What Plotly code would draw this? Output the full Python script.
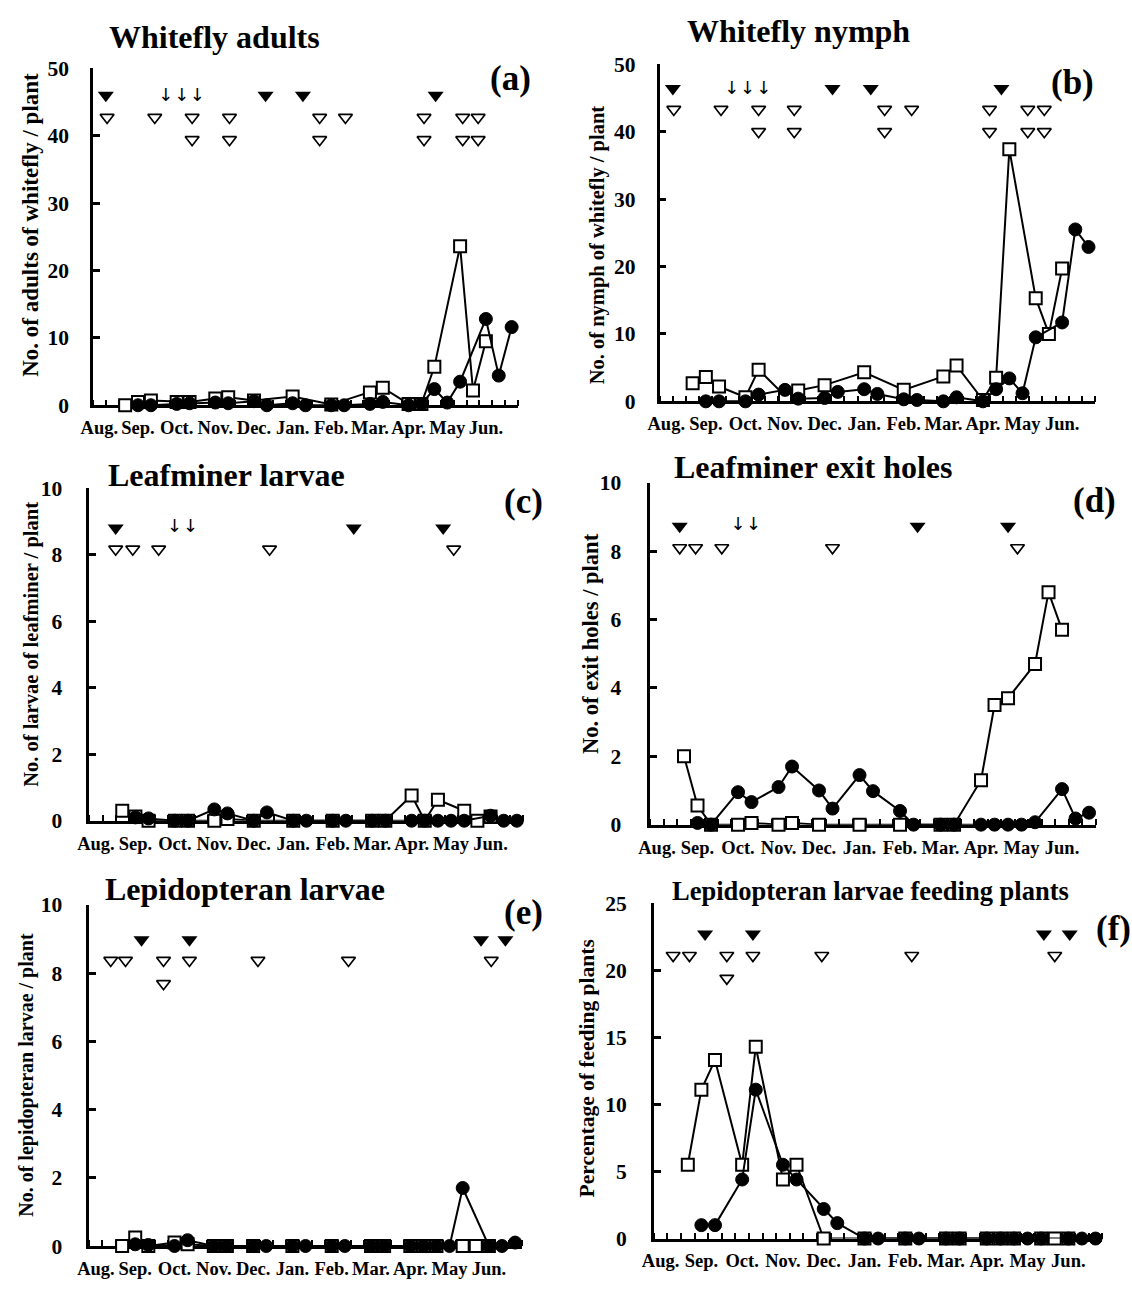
import plotly.graph_objects as go

# ---------------- data ----------------
MONTHS = ["Aug.", "Sep.", "Oct.", "Nov.", "Dec.", "Jan.", "Feb.", "Mar.", "Apr.", "May", "Jun."]
MONTH_PERIOD = [0.5 + 3 * i for i in range(11)]          # ten-day period where each month label sits

# sampling periods (ten-day periods from early August)
SQ_PERIOD = [2.5, 3.5, 4.5, 6.5, 7.5, 9.5, 10.5, 12.5, 15.5, 18.5, 21.5, 22.5, 24.5, 25.5, 26.5, 28.5, 29.5, 30.5]
CI_PERIOD = [3.5, 4.5, 6.5, 7.5, 9.5, 10.5, 12.5, 13.5, 15.5, 16.5, 18.5, 19.5, 21.5, 22.5, 24.5, 25.5, 26.5,
             27.5, 28.5, 30.5, 31.5, 32.5]

# (a) whitefly adults
A_SQ = [0, 0.5, 0.7, 0.5, 0.5, 1.0, 1.2, 0.7, 1.3, 0.1, 1.9, 2.6, 0.2, 0.2, 5.7, 23.6, 2.2, 9.5]
A_CI = [0, 0, 0.2, 0.3, 0.4, 0.3, 0.6, 0, 0.3, 0, 0, 0, 0.2, 0.5, 0, 0.2, 2.4, 0.4, 3.5, 12.8, 4.4, 11.6]
A_FILLED = [1.0, 13.4, 16.3, 26.6]
A_OPEN1 = [1.1, 4.8, 7.7, 10.6, 17.6, 19.6, 25.7, 28.7, 29.9]
A_OPEN2 = [7.7, 10.6, 17.6, 25.7, 28.7, 29.9]
A_ARROWS = [5.65, 6.9, 8.1]
A_LEVELS = [46.0, 42.7, 39.4, 45.8]

# (b) whitefly nymph
B_SQ = [2.7, 3.6, 2.2, 0.6, 4.7, 0.8, 1.6, 2.4, 4.3, 1.7, 3.7, 5.3, 0.2, 3.5, 37.4, 15.3, 10.0, 19.7]
B_CI = [0, 0, 0, 1.0, 1.7, 0.4, 0.5, 1.4, 1.8, 1.1, 0.3, 0.2, 0, 0.6, 0, 1.8, 3.4, 1.2, 9.5, 11.7, 25.5, 22.9]
B_FILLED = [1.0, 13.1, 16.0, 25.9]
B_OPEN1 = [1.07, 4.65, 7.5, 10.2, 17.05, 19.1, 25.0, 27.9, 29.15]
B_OPEN2 = [7.5, 10.2, 17.05, 25.0, 27.9, 29.15]
B_ARROWS = [5.47, 6.66, 7.9]
B_LEVELS = [46.4, 43.3, 40.0, 46.2]

# (c) leafminer larvae
C_SQ = [0.3, 0.13, 0, 0, 0, 0, 0.05, 0, 0, 0, 0, 0, 0.76, 0, 0.63, 0.3, 0, 0.13]
C_CI = [0.1, 0.07, 0, 0, 0.34, 0.22, 0, 0.25, 0, 0, 0, 0, 0, 0, 0, 0, 0, 0, 0, 0.15, 0, 0]
C_FILLED = [2.0, 20.1, 26.9]
C_OPEN1 = [2.0, 3.3, 5.27, 13.7, 27.7]
C_OPEN2 = []
C_ARROWS = [6.48, 7.7]
C_LEVELS = [8.8, 8.16, 7.5, 8.8]

# (d) leafminer exit holes
D_SQ = [2.0, 0.56, 0, 0, 0.05, 0, 0.05, 0, 0, 0, 0, 0, 1.3, 3.5, 3.7, 4.7, 6.8, 5.7]
D_CI = [0.05, 0, 0.95, 0.66, 1.1, 1.7, 1.0, 0.47, 1.45, 0.98, 0.4, 0, 0, 0, 0, 0, 0, 0, 0.07, 1.04, 0.18, 0.35]
D_FILLED = [2.18, 19.8, 26.5]
D_OPEN1 = [2.18, 3.36, 5.3, 13.5, 27.2]
D_OPEN2 = []
D_ARROWS = [6.5, 7.66]
D_LEVELS = [8.73, 8.1, 7.5, 8.75]

# (e) lepidopteran larvae
E_SQ = [0, 0.25, 0, 0.1, 0.05, 0, 0, 0, 0, 0, 0, 0, 0, 0, 0, 0, 0, 0]
E_CI = [0.05, 0.03, 0, 0.17, 0, 0, 0, 0, 0, 0, 0, 0, 0, 0, 0, 0, 0, 0, 1.7, 0, 0, 0.1]
E_FILLED = [3.98, 7.64, 29.9, 31.76]
E_OPEN1 = [1.63, 2.76, 5.66, 7.64, 12.87, 19.78, 30.68]
E_OPEN2 = [5.66]
E_ARROWS = []
E_LEVELS = [8.98, 8.37, 7.69, 9.0]

# (f) lepidopteran larvae feeding plants (%)
F_SQ = [5.5, 11.1, 13.3, 5.5, 14.3, 4.4, 5.5, 0, 0, 0, 0, 0, 0, 0, 0, 0, 0, 0]
F_CI = [1.0, 1.0, 4.4, 11.1, 5.5, 4.4, 2.2, 1.15, 0, 0, 0, 0, 0, 0, 0, 0, 0, 0, 0, 0, 0, 0]
F_FILLED = [3.77, 7.29, 28.7, 30.6]
F_OPEN1 = [1.42, 2.62, 5.37, 7.29, 12.36, 18.98, 29.5]
F_OPEN2 = [5.37]
F_ARROWS = []
F_LEVELS = [22.7, 21.1, 19.4, 22.7]

TITLES = ["Whitefly adults", "Whitefly nymph", "Leafminer larvae", "Leafminer exit holes",
          "Lepidopteran larvae", "Lepidopteran larvae feeding plants"]
YTITLES = ["No. of adults of whitefly / plant", "No. of nymph of whitefly / plant",
           "No. of larvae of leafminer / plant", "No. of exit holes / plant",
           "No. of lepidopteran larvae / plant", "Percentage of feeding plants"]
LETTERS = ["(a)", "(b)", "(c)", "(d)", "(e)", "(f)"]
YMAX = [50, 50, 10, 10, 10, 25]
YDTICK = [10, 10, 2, 2, 2, 5]

# ---------------- layout (pixels) ----------------
W, H = 1132, 1296
FONT = "Liberation Serif, Times New Roman, serif"


def fx(p):
    return p / W


def fy(p):
    return 1 - p / H


panels = [
    dict(sq=A_SQ, ci=A_CI, fil=A_FILLED, o1=A_OPEN1, o2=A_OPEN2, arr=A_ARROWS, lv=A_LEVELS,
         dx=(81.8, 511.5), dy=(58.3, 401.7), tpos=(205, 26.7), tsz=32, ypos=(19, 218), ysz=23,
         lpos=(504, 69), stand=17),
    dict(sq=B_SQ, ci=B_CI, fil=B_FILLED, o1=B_OPEN1, o2=B_OPEN2, arr=B_ARROWS, lv=B_LEVELS,
         dx=(654.6, 1094.7), dy=(54.3, 397.7), tpos=(795, 20), tsz=32, ypos=(592, 238), ysz=20.5,
         lpos=(1071.5, 73), stand=17),
    dict(sq=C_SQ, ci=C_CI, fil=C_FILLED, o1=C_OPEN1, o2=C_OPEN2, arr=C_ARROWS, lv=C_LEVELS,
         dx=(78.2, 516.9), dy=(486, 825), tpos=(217, 473), tsz=32, ypos=(19, 645), ysz=20.5,
         lpos=(517, 500), stand=20),
    dict(sq=D_SQ, ci=D_CI, fil=D_FILLED, o1=D_OPEN1, o2=D_OPEN2, arr=D_ARROWS, lv=D_LEVELS,
         dx=(645.1, 1095.4), dy=(480.7, 829), tpos=(810, 465), tsz=32, ypos=(584, 644), ysz=22.5,
         lpos=(1093.6, 499), stand=22),
    dict(sq=E_SQ, ci=E_CI, fil=E_FILLED, o1=E_OPEN1, o2=E_OPEN2, arr=E_ARROWS, lv=E_LEVELS,
         dx=(78.2, 515.1), dy=(910.7, 1258.3), tpos=(235, 895), tsz=32, ypos=(15, 1084), ysz=20,
         lpos=(517, 919), stand=20),
    dict(sq=F_SQ, ci=F_CI, fil=F_FILLED, o1=F_OPEN1, o2=F_OPEN2, arr=F_ARROWS, lv=F_LEVELS,
         dx=(648.7, 1102), dy=(909, 1250.7), tpos=(868, 896.7), tsz=26.5, ypos=(581, 1077.5), ysz=21.5,
         lpos=(1113, 935), stand=20),
]

fig = go.Figure()
layout = dict(width=W, height=H, margin=dict(l=0, r=0, t=0, b=0), showlegend=False,
              plot_bgcolor="white", paper_bgcolor="white", annotations=[])

for i, p in enumerate(panels):
    n = i + 1
    xa = "x" if n == 1 else f"x{n}"
    ya = "y" if n == 1 else f"y{n}"

    # open squares series
    fig.add_trace(go.Scatter(
        x=SQ_PERIOD, y=p["sq"], xaxis=xa, yaxis=ya, mode="lines+markers", cliponaxis=False,
        line=dict(color="black", width=2),
        marker=dict(symbol="square", size=12, color="white", line=dict(color="black", width=2))))
    # filled circles series
    fig.add_trace(go.Scatter(
        x=CI_PERIOD, y=p["ci"], xaxis=xa, yaxis=ya, mode="lines+markers", cliponaxis=False,
        line=dict(color="black", width=2),
        marker=dict(symbol="circle", size=13, color="black", line=dict(color="black", width=1))))
    # treatment markers
    lv = p["lv"]
    fig.add_trace(go.Scatter(
        x=p["fil"], y=[lv[0]] * len(p["fil"]), xaxis=xa, yaxis=ya, mode="markers", cliponaxis=False,
        marker=dict(symbol="triangle-down", size=14, color="black")))
    opx = p["o1"] + p["o2"]
    opy = [lv[1]] * len(p["o1"]) + [lv[2]] * len(p["o2"])
    fig.add_trace(go.Scatter(
        x=opx, y=opy, xaxis=xa, yaxis=ya, mode="markers", cliponaxis=False,
        marker=dict(symbol="triangle-down-open", size=12, color="black", line=dict(width=1.7))))
    if p["arr"]:
        fig.add_trace(go.Scatter(
            x=p["arr"], y=[lv[3]] * len(p["arr"]), xaxis=xa, yaxis=ya, mode="text", cliponaxis=False,
            text=["↓"] * len(p["arr"]), textposition="middle center",
            textfont=dict(family="DejaVu Sans", size=18, color="black")))

    x0, x1 = p["dx"]
    y0, y1 = p["dy"]
    axis_font_x = dict(family=FONT, size=18.5, color="black", weight="bold")
    layout["xaxis" if n == 1 else f"xaxis{n}"] = dict(
        domain=[fx(x0), fx(x1)], range=[0, 33], anchor=ya, showline=True, linecolor="black",
        linewidth=2.5, showgrid=False, zeroline=False, tickmode="array", tickvals=MONTH_PERIOD,
        ticktext=MONTHS, ticks="", tickfont=axis_font_x, ticklabelstandoff=4, layer="below traces",
        minor=dict(ticks="inside", ticklen=6, tickwidth=2, tickcolor="black", tickmode="linear",
                   tick0=0, dtick=1, showgrid=False),
        fixedrange=True)
    layout["yaxis" if n == 1 else f"yaxis{n}"] = dict(
        domain=[fy(y1), fy(y0)], range=[0, YMAX[i]], anchor=xa, showline=True, linecolor="black",
        linewidth=2.5, showgrid=False, zeroline=False, ticks="inside", ticklen=7, tickwidth=2.5,
        tickcolor="black", tickmode="linear", tick0=0, dtick=YDTICK[i],
        tickfont=dict(family=FONT, size=21.5, color="black", weight="bold"),
        ticklabelstandoff=p["stand"], layer="below traces", fixedrange=True)

    ann = layout["annotations"]
    ann.append(dict(text=f"<b>{TITLES[i]}</b>", x=fx(p["tpos"][0]), y=fy(p["tpos"][1]), xref="paper",
                    yref="paper", xanchor="center", yanchor="middle", showarrow=False,
                    font=dict(family=FONT, size=p["tsz"], color="black")))
    ann.append(dict(text=f"<b>{YTITLES[i]}</b>", x=fx(p["ypos"][0]), y=fy(p["ypos"][1]), xref="paper",
                    yref="paper", xanchor="center", yanchor="middle", showarrow=False, textangle=-90,
                    font=dict(family=FONT, size=p["ysz"], color="black")))
    ann.append(dict(text=f"<b>{LETTERS[i]}</b>", x=fx(p["lpos"][0]), y=fy(p["lpos"][1]), xref="paper",
                    yref="paper", xanchor="center", yanchor="middle", showarrow=False,
                    font=dict(family=FONT, size=35, color="black")))

fig.update_layout(**layout)
fig.write_html("out.html")
